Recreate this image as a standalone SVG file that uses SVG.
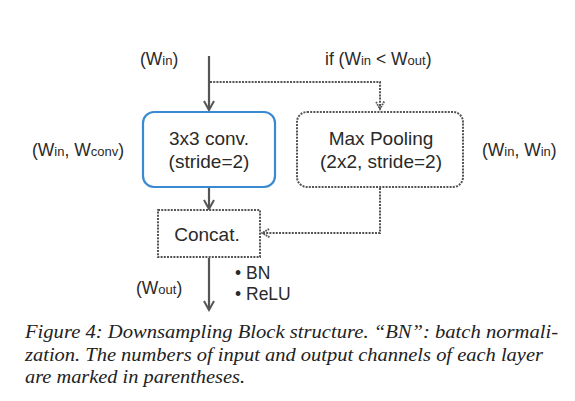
<svg xmlns="http://www.w3.org/2000/svg" width="575" height="401" viewBox="0 0 575 401">
<defs>
<style>
.lbl{font-family:"Liberation Sans",Arial,sans-serif;font-size:17.5px;fill:#2a2a2a}
.box{font-family:"Liberation Sans",Arial,sans-serif;font-size:19px;fill:#2a2a2a}
.sub{font-size:13px}
.cap{font-family:"Liberation Serif","Times New Roman",serif;font-style:italic;font-size:19px;fill:#222}
.solid{fill:none;stroke:#555;stroke-width:2.2}
.dot{fill:none;stroke:#555;stroke-width:2;stroke-dasharray:2 1.2}
</style>
<marker id="ah" viewBox="0 0 12 12" refX="10" refY="6" markerWidth="12" markerHeight="12" markerUnits="userSpaceOnUse" orient="auto">
<polyline points="1,1 10,6 1,11" fill="none" stroke="#555" stroke-width="2"/>
</marker>
<marker id="ahd" viewBox="0 0 12 12" refX="10" refY="6" markerWidth="10" markerHeight="10" markerUnits="userSpaceOnUse" orient="auto">
<polyline points="1,1 10,6 1,11" fill="none" stroke="#555" stroke-width="2.2" stroke-dasharray="2 1"/>
</marker>
</defs>
<rect width="575" height="401" fill="#fff"/>

<g id="connectors">
<line class="solid" x1="209" y1="56" x2="209" y2="110" marker-end="url(#ah)"/>
<polyline class="dot" points="210,82 380,82 380,109" marker-end="url(#ahd)"/>
<line class="solid" x1="209" y1="187" x2="209" y2="209" marker-end="url(#ah)"/>
<polyline class="dot" points="380,188 380,233 262,233" marker-end="url(#ahd)"/>
<line class="solid" x1="209" y1="258" x2="209" y2="310" marker-end="url(#ah)"/>
</g>

<g id="conv">
<rect x="143" y="112" width="132" height="75" rx="11" fill="#fff" stroke="#3a8ad2" stroke-width="2.2"/>
<text class="box" x="209" y="145" text-anchor="middle">3x3 conv.</text>
<text class="box" x="209" y="168" text-anchor="middle">(stride=2)</text>
</g>

<g id="maxpool">
<rect x="297" y="112" width="166" height="75" rx="10" fill="#fff" stroke="#555" stroke-width="2" stroke-dasharray="2 1.2"/>
<text class="box" x="381" y="145" text-anchor="middle">Max Pooling</text>
<text class="box" x="381" y="168" text-anchor="middle">(2x2, stride=2)</text>
</g>

<g id="concat">
<rect x="158" y="210" width="102" height="47" fill="#fff" stroke="#555" stroke-width="2" stroke-dasharray="2 1.2"/>
<text class="box" x="207" y="241" text-anchor="middle">Concat.</text>
</g>

<g id="labels">
<text class="lbl" x="140" y="65">(W<tspan class="sub">in</tspan>)</text>
<text class="lbl" x="325" y="65">if (W<tspan class="sub">in</tspan> &lt; W<tspan class="sub">out</tspan>)</text>
<text class="lbl" x="32" y="156">(W<tspan class="sub">in</tspan>, W<tspan class="sub">conv</tspan>)</text>
<text class="lbl" x="482" y="156">(W<tspan class="sub">in</tspan>, W<tspan class="sub">in</tspan>)</text>
<text class="lbl" x="136" y="294">(W<tspan class="sub">out</tspan>)</text>
<text class="lbl" x="235" y="279">• BN</text>
<text class="lbl" x="235" y="300">• ReLU</text>
</g>

<g id="caption">
<text class="cap" x="25" y="338" textLength="533" lengthAdjust="spacingAndGlyphs">Figure 4: Downsampling Block structure. “BN”: batch normali-</text>
<text class="cap" x="25" y="361" textLength="518" lengthAdjust="spacingAndGlyphs">zation. The numbers of input and output channels of each layer</text>
<text class="cap" x="25" y="383" textLength="220" lengthAdjust="spacingAndGlyphs">are marked in parentheses.</text>
</g>
</svg>
